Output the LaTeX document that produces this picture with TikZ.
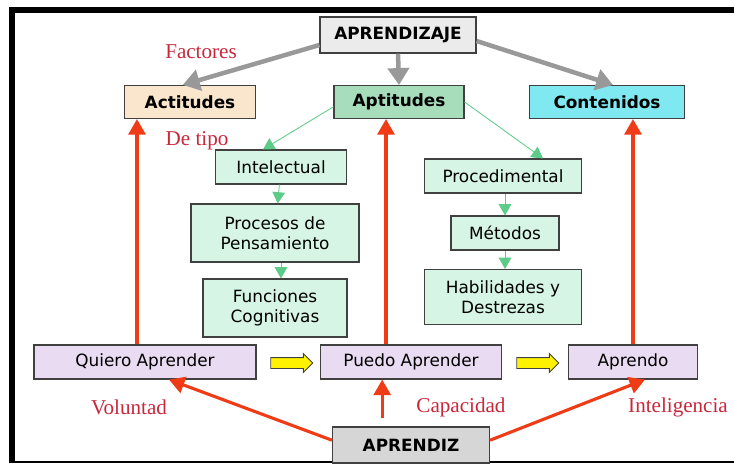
\documentclass[tikz,border=0pt]{standalone}
\usepackage{fontspec}
\usepackage{tikz}
\usetikzlibrary{shapes,arrows.meta}

\newfontfamily\boxfont{DejaVu Sans}
\newfontfamily\lblfont{Liberation Serif}

\definecolor{boxline}{HTML}{404040}
\definecolor{grayfill}{HTML}{EBEBEB}
\definecolor{darkfill}{HTML}{D6D6D6}
\definecolor{peach}{HTML}{FAE6CC}
\definecolor{aptgreen}{HTML}{A8DDBC}
\definecolor{cyanfill}{HTML}{80E8F0}
\definecolor{mint}{HTML}{D6F5E4}
\definecolor{lavender}{HTML}{E9DCF2}
\definecolor{lblred}{HTML}{C8283C}
\definecolor{arrred}{HTML}{F03C16}
\definecolor{arrgray}{HTML}{999999}
\definecolor{arrgreen}{HTML}{5CCC88}

\begin{document}
\begin{tikzpicture}[x=0.025cm,y=-0.025cm,
	box/.style={rectangle,draw=boxline,line width=0.8pt,inner sep=0pt,align=center,
		font=\boxfont\fontsize{12}{14}\selectfont},
	head/.style={box,font=\boxfont\bfseries\fontsize{12}{14}\selectfont},
	wh/.style 2 args={minimum width=#1*0.025cm,minimum height=#2*0.025cm},
	lbl/.style={text=lblred,font=\lblfont\fontsize{15}{17}\selectfont},
	grayarrow/.style={draw=arrgray,line width=3.2pt,-{Triangle[length=12pt,width=15pt]}},
	greenarrow/.style={draw=arrgreen,line width=0.6pt,-{Triangle[length=8pt,width=9pt]}},
	redarrow/.style={draw=arrred,line width=2.2pt,-{Triangle[length=11pt,width=12pt]}},
	yellowarrow/.style={single arrow,draw=boxline,fill=yellow,line width=0.7pt,
		inner xsep=0pt,inner ysep=5*0.025cm,
		minimum height=42*0.025cm,minimum width=18*0.025cm,single arrow head extend=4*0.025cm}]

	\useasboundingbox (0,0) rectangle (734,463);
	\fill[white] (0,0) rectangle (734,463);
	\fill[black] (9,7) rectangle (734,13);
	\fill[black] (9,7) rectangle (15,463);
	\fill[black] (9,461) rectangle (734,463);

	\node[head,fill=grayfill,wh={156}{36}] (aprendizaje) at (398,35) {APRENDIZAJE};
	\node[head,fill=peach,wh={131}{33}] (actitudes) at (190,102) {Actitudes};
	\node[head,fill=aptgreen,wh={130}{33}] (aptitudes) at (399,102) {Aptitudes};
	\node[head,fill=cyanfill,wh={155}{33}] (contenidos) at (607,102) {Contenidos};

	\node[box,fill=mint,wh={131}{34}] (intelectual) at (281,167) {Intelectual};
	\node[box,fill=mint,wh={168}{58}] (procesos) at (275,233) {Procesos de\\Pensamiento};
	\node[box,fill=mint,wh={144}{58}] (funciones) at (275,308) {Funciones\\Cognitivas};

	\node[box,fill=mint,wh={157}{34}] (procedimental) at (503,176) {Procedimental};
	\node[box,fill=mint,wh={108}{34}] (metodos) at (505,233) {Métodos};
	\node[box,fill=mint,wh={157}{55}] (habilidades) at (503,297) {Habilidades y\\Destrezas};

	\node[box,fill=lavender,wh={222}{34}] (quiero) at (145,362) {Quiero Aprender};
	\node[box,fill=lavender,wh={181}{34}] (puedo) at (411,362) {Puedo Aprender};
	\node[box,fill=lavender,wh={129}{34}] (aprendo) at (633,362) {Aprendo};
	\node[head,fill=darkfill,wh={157}{36}] (aprendiz) at (411,445) {APRENDIZ};

	\node[yellowarrow] (paso1) at (289,363) {};
	\node[yellowarrow] (paso2) at (535,363) {};

	\node[lbl] (factores) at (201,52) {Factores};
	\node[lbl] (detipo) at (197,141) {De tipo};
	\node[lbl] (voluntad) at (129,407) {Voluntad};
	\node[lbl] (capacidad) at (461,407) {Capacidad};
	\node[lbl] (inteligencia) at (678,407) {Inteligencia};

	\draw[grayarrow] ([yshift=-0.25cm]aprendizaje.west) -- ([xshift=-0.18cm]actitudes.north);
	\draw[grayarrow] (aprendizaje.south) -- (aptitudes.north);
	\draw[grayarrow] ([yshift=-0.15cm]aprendizaje.east) -- ([xshift=0.15cm]contenidos.north);

	\draw[greenarrow] ([yshift=-0.12cm]aptitudes.west) -- ([xshift=-0.45cm]intelectual.north);
	\draw[greenarrow] (aptitudes.east) -- ([xshift=1cm]procedimental.north);
	\draw[greenarrow] (intelectual) -- (procesos);
	\draw[greenarrow] ([xshift=0.15cm]procesos.south) -- ([xshift=0.15cm]procesos.south |- funciones.north);
	\draw[greenarrow] (procedimental.south -| metodos.north) -- (metodos.north);
	\draw[greenarrow] (metodos.south) -- (metodos.south |- habilidades.north);

	\draw[redarrow] ([xshift=-0.2cm]quiero.north) -- ([xshift=-0.2cm]quiero.north |- actitudes.south);
	\draw[redarrow] ([xshift=-0.625cm]puedo.north) -- ([xshift=-0.625cm]puedo.north |- aptitudes.south);
	\draw[redarrow] (aprendo.north) -- (aprendo.north |- contenidos.south);

	\draw[redarrow] ([yshift=0.12cm]aprendiz.west) -- ([xshift=0.6cm]quiero.south);
	\draw[redarrow,shorten <=0.2cm] ([xshift=-0.72cm]aprendiz.north) -- ([xshift=-0.72cm]aprendiz.north |- puedo.south);
	\draw[redarrow] ([yshift=0.12cm]aprendiz.east) -- ([xshift=0.3cm]aprendo.south);

\end{tikzpicture}
\end{document}
